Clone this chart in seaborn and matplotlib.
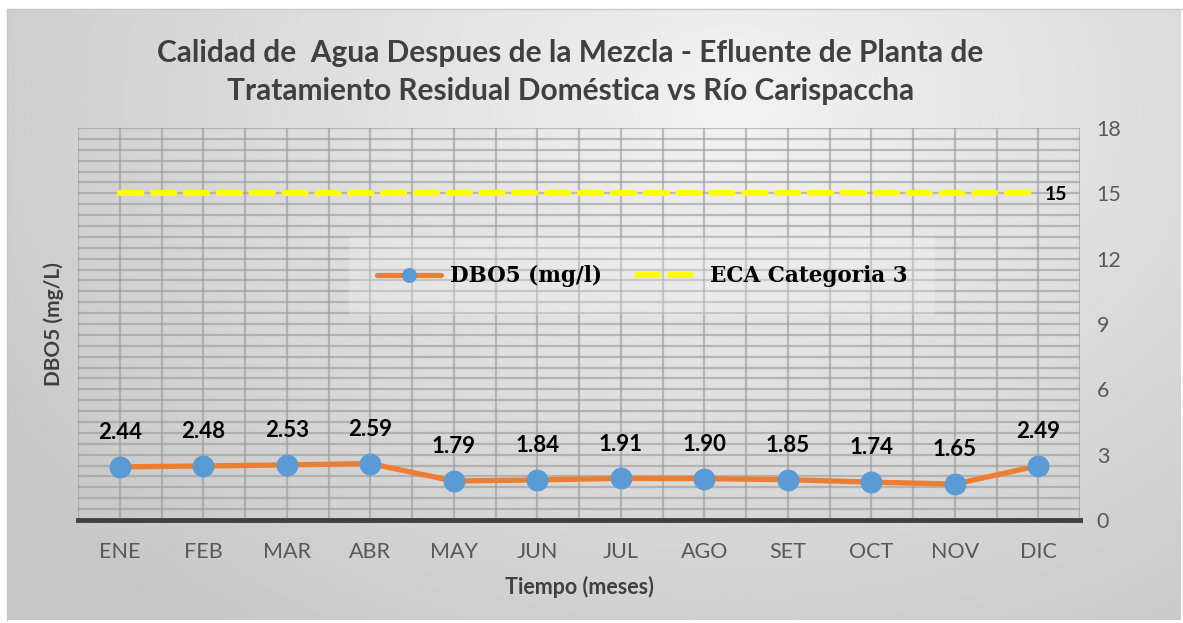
import numpy as np
import pandas as pd
import matplotlib.pyplot as plt
import seaborn as sns
from matplotlib.ticker import MultipleLocator

meses = ['ENE', 'FEB', 'MAR', 'ABR', 'MAY', 'JUN', 'JUL', 'AGO', 'SET', 'OCT', 'NOV', 'DIC']
dbo5 = [2.44, 2.48, 2.53, 2.59, 1.79, 1.84, 1.91, 1.90, 1.85, 1.74, 1.65, 2.49]
eca = [15] * 12

sns.set_theme(style='white')
plt.rcParams['font.family'] = ['Lato', 'DejaVu Sans']

df = pd.DataFrame({'mes': meses, 'x': range(len(meses)), 'dbo5': dbo5, 'eca': eca})

fig = plt.figure(figsize=(11.83, 6.23), dpi=100)
fig.patch.set_facecolor('white')

# gradient background of the chart area
bg = fig.add_axes([7 / 1183, 3 / 623, 1174 / 1183, 611 / 623], zorder=0)
gx, gy = np.meshgrid(np.linspace(0, 1, 400), np.linspace(1, 0, 200))
r = np.sqrt(((gx - 0.62) / 0.75) ** 2 + ((gy - 0.85) / 1.1) ** 2)
shade = np.clip(0.95 - 0.17 * r, 0.78, 0.95)
bg.imshow(shade, cmap='gray', vmin=0, vmax=1, aspect='auto', extent=[0, 1, 0, 1])
bg.set_axis_off()
fig.add_artist(plt.Line2D([7 / 1183, 1], [1 - 9 / 623, 1 - 9 / 623], color='#c8c8c8', lw=1))
fig.add_artist(plt.Line2D([7 / 1183, 7 / 1183], [3 / 623, 1 - 9 / 623], color='#c8c8c8', lw=1))

ax = fig.add_axes([78 / 1183, 1 - 520 / 623, 1002 / 1183, 392 / 623], zorder=1)
ax.patch.set_alpha(0)

ax.set_xlim(-0.5, 11.5)
ax.set_ylim(0, 18)
ax.xaxis.set_major_locator(MultipleLocator(1))
ax.xaxis.set_minor_locator(MultipleLocator(0.5))
ax.yaxis.set_major_locator(MultipleLocator(3))
ax.yaxis.set_minor_locator(MultipleLocator(0.5))
ax.grid(which='both', axis='both', color='#999999', lw=1.6, alpha=0.6)
ax.set_axisbelow(True)

sns.lineplot(data=df, x='x', y='eca', ax=ax, color='#FFFF00', lw=4.3,
             dashes=False, linestyle=(0, (3.6, 1.9)), dash_capstyle='round',
             label='ECA Categoria 3', zorder=3)
sns.lineplot(data=df, x='x', y='dbo5', ax=ax, color='#ED7D31', lw=3.8,
             marker='o', markersize=15, markerfacecolor='#5B9BD5',
             markeredgecolor='#5B9BD5', label='DBO5 (mg/l)', zorder=4)

for xi, v in zip(df['x'], df['dbo5']):
    ax.annotate(f'{v:.2f}', (xi, v), xytext=(0, 17), textcoords='offset points',
                ha='center', va='bottom', fontsize=16, fontweight='bold', color='black')
ax.annotate(f'{eca[-1]}', (df['x'].iloc[-1], eca[-1]), xytext=(5, -1), textcoords='offset points',
            ha='left', va='center', fontsize=14, fontweight='bold', color='black')

ax.set_xticks(df['x'])
ax.set_xticklabels(meses)
ax.yaxis.tick_right()
ax.tick_params(axis='both', which='both', length=0, labelsize=15.5, labelcolor='#595959')
ax.tick_params(axis='x', pad=16)
ax.tick_params(axis='y', pad=12)

for s in ['top', 'left', 'right']:
    ax.spines[s].set_visible(False)
ax.spines['bottom'].set_color('#404040')
ax.spines['bottom'].set_linewidth(3.5)

ax.set_xlabel('Tiempo (meses)', fontsize=15.5, fontweight='bold', color='#404040', labelpad=10)
ax.set_ylabel('DBO5 (mg/L)', fontsize=15, fontweight='bold', color='#404040', labelpad=10)
ax.yaxis.set_label_position('left')

handles, labels = ax.get_legend_handles_labels()
order = [labels.index('DBO5 (mg/l)'), labels.index('ECA Categoria 3')]
leg = ax.legend([handles[i] for i in order], [labels[i] for i in order],
                loc='center', bbox_to_anchor=(0.563, 0.622), ncol=2, frameon=True,
                prop={'family': 'DejaVu Serif', 'weight': 'bold', 'size': 15.5},
                handlelength=3.0, columnspacing=1.6, handletextpad=0.4,
                borderpad=1.3, fancybox=False)
leg.get_frame().set_facecolor('#f8f8f8')
leg.get_frame().set_alpha(0.25)
leg.get_frame().set_edgecolor('none')
leg.legend_handles[0].set_markersize(10)
for t in leg.get_texts():
    t.set_color('black')

fig.text(0.482, 1 - 72 / 623,
         'Calidad de  Agua Despues de la Mezcla - Efluente de Planta de\n'
         'Tratamiento Residual Doméstica vs Río Carispaccha',
         ha='center', va='center', fontsize=21.5, fontweight='bold',
         color='#404040', linespacing=1.45)

fig.savefig('out.png', dpi=100)
